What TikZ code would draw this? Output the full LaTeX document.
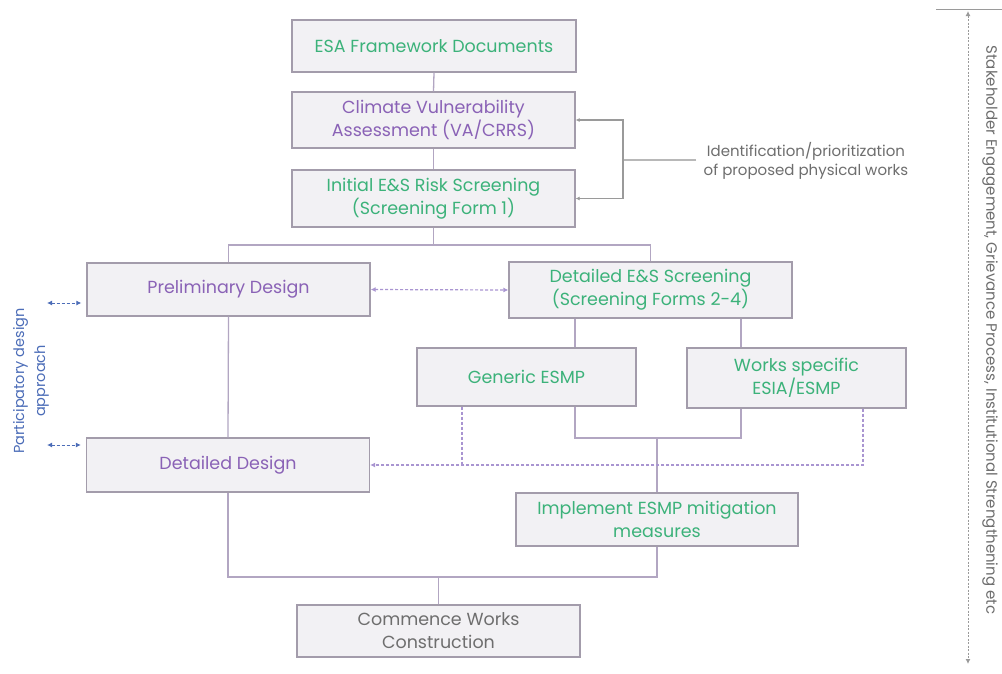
\documentclass[tikz,border=0pt]{standalone}
\usepackage{fontspec}
\setmainfont{Poppins}
\usetikzlibrary{arrows.meta}
\definecolor{boxfill}{HTML}{F2F1F4}
\definecolor{boxdraw}{HTML}{A39CAB}
\definecolor{connc}{HTML}{B2A6C2}
\definecolor{greentxt}{HTML}{3CB27A}
\definecolor{purpletxt}{HTML}{8A62B6}
\definecolor{graytxt}{HTML}{6E6E6E}
\definecolor{dashpur}{HTML}{8468BE}
\definecolor{bluec}{HTML}{4C6DB8}
\definecolor{graylin}{HTML}{9A9A9A}
\tikzset{
  box/.style={draw=boxdraw, fill=boxfill, line width=1.3pt, align=center, inner sep=0pt,
    font=\fontsize{17.5}{23}\selectfont},
  gtx/.style={text=greentxt},
  ptx/.style={text=purpletxt},
  ytx/.style={text=graytxt},
  conn/.style={draw=connc, line width=1.3pt},
  arrconn/.style={draw=graylin, line width=1.1pt, -{Latex[length=4pt,width=4pt]}},
  dotpur/.style={draw=dashpur!70, line width=1.2pt, dash pattern=on 3pt off 2pt},
  dotarr/.style={dotpur, {Latex[length=5pt,width=5pt]}-{Latex[length=5pt,width=5pt]}},
  bluearr/.style={draw=bluec, line width=1pt, dash pattern=on 3pt off 2pt, {Latex[length=5pt,width=5pt]}-{Latex[length=5pt,width=5pt]}},
}
\begin{document}
\begin{tikzpicture}[x=1pt,y=-1pt]
\useasboundingbox[fill=white] (0,0) rectangle (1002,673);

% boxes
\node[box,gtx,minimum width=284,minimum height=52] (esa) at (434,46) {ESA Framework Documents};
\node[box,ptx,minimum width=283,minimum height=56] (cva) at (433.5,120) {Climate Vulnerability\\Assessment (VA/CRRS)};
\node[box,gtx,minimum width=283,minimum height=57] (ini) at (433.5,198.5) {Initial E\&S Risk Screening\\(Screening Form 1)};
\node[box,ptx,minimum width=283,minimum height=53] (prel) at (228.5,289.5) {Preliminary Design};
\node[box,gtx,minimum width=283,minimum height=56] (des) at (650.5,290) {Detailed E\&S Screening\\(Screening Forms 2-4)};
\node[box,gtx,minimum width=219,minimum height=58] (gen) at (526.5,377) {Generic ESMP};
\node[box,gtx,minimum width=219,minimum height=60] (wrk) at (796.5,378) {Works specific\\ESIA/ESMP};
\node[box,ptx,minimum width=283,minimum height=54] (dd) at (228,465) {Detailed Design};
\node[box,gtx,minimum width=282,minimum height=53] (imp) at (657,519.5) {Implement ESMP mitigation\\measures};
\node[box,ytx,minimum width=283,minimum height=52] (com) at (438.5,631) {Commence Works\\Construction};

% side labels
\node[text=graytxt, align=center, font=\fontsize{15}{19}\selectfont] (idl) at (806,161) {Identification/prioritization\\of proposed physical works};
\node[text=bluec, align=center, rotate=90, font=\fontsize{14.5}{21}\selectfont] (pda) at (31,381) {Participatory design\\approach};
\node[text=graytxt, rotate=-90, font=\fontsize{15}{16}\selectfont] (sten) at (990,330) {Stakeholder Engagement, Grievance Process, Institutional Strengthening etc};

% main connectors
\draw[conn] (esa.south) -- (cva.north);
\draw[conn] (cva.south) -- (ini.north);
\coordinate (split) at (433.5,245);
\draw[conn] (ini.south) -- (split);
\draw[conn] (split) -| (prel.north);
\draw[conn] (split) -| (des.north);
\draw[conn] ([xshift=-75.5pt]des.south) -- ([xshift=-75.5pt]des.south |- gen.north);
\draw[conn] ([xshift=90.5pt]des.south) -- ([xshift=90.5pt]des.south |- wrk.north);
\coordinate (gw) at (657,438);
\draw[conn] ([xshift=48.5pt]gen.south) |- (gw) -| ([xshift=-55.5pt]wrk.south);
\draw[conn] (gw) -- (imp.north);
\draw[conn] (prel.south) -- (dd.north);
\coordinate (bj) at (438.5,577);
\draw[conn] (dd.south) |- (bj) -| (imp.south);
\draw[conn] (bj) -- (com.north);

% identification bracket
\coordinate (jn) at (623,160);
\draw[conn, draw=graylin!70] ([xshift=-4pt]idl.west |- jn) -- (jn);
\draw[arrconn] (jn) |- (cva.east);
\draw[arrconn] (jn) |- (ini.east);

% dashed / dotted links
\draw[dotarr] (prel.east) -- (des.west);
\coordinate (dj) at (462,465);
\draw[dotpur] ([xshift=-64.5pt]gen.south) -- (dj);
\draw[dotpur, -{Latex[length=5pt,width=5pt]}] ([xshift=66.5pt]wrk.south) |- (dd.east);

% participatory arrows
\coordinate (pa1) at (47,303);
\coordinate (pa2) at (47,445);
\draw[bluearr] (pa1) -- ([shift={(-5pt,-13.5pt)}]prel.west);
\draw[bluearr] (pa2) -- ([shift={(-5pt,20pt)}]dd.west);

% right stakeholder line
\coordinate (tl) at (936,9);
\coordinate (tr) at (1002,9);
\draw[draw=graylin, line width=1pt] (tl) -- (tr);
\coordinate (st) at (968,11);
\coordinate (sb) at (968,664);
\draw[draw=graylin, line width=1pt, dash pattern=on 2pt off 1.5pt, {Latex[length=5pt,width=5pt]}-{Latex[length=5pt,width=5pt]}] (st) -- (sb);
\end{tikzpicture}
\end{document}
